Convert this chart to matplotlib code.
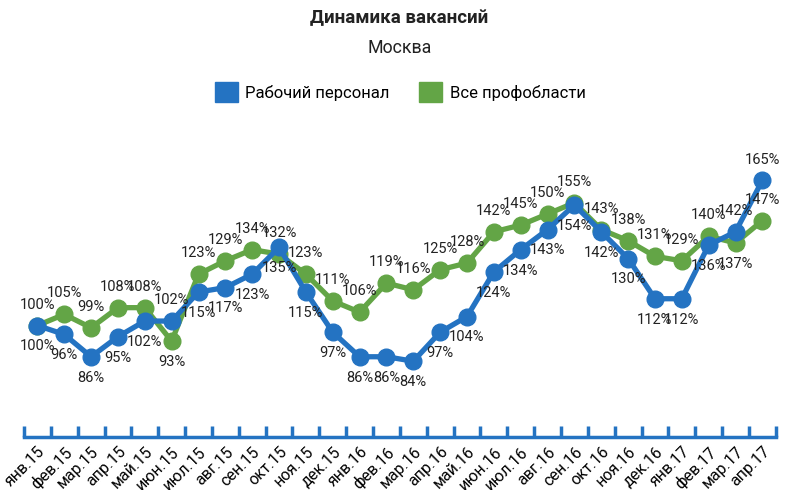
import numpy as np
import matplotlib.pyplot as plt
from matplotlib.patches import Patch

plt.rcParams['font.family'] = ['Roboto', 'DejaVu Sans']

months = ['янв.15', 'фев.15', 'мар.15', 'апр.15', 'май.15', 'июн.15', 'июл.15',
          'авг.15', 'сен.15', 'окт.15', 'ноя.15', 'дек.15', 'янв.16', 'фев.16',
          'мар.16', 'апр.16', 'май.16', 'июн.16', 'июл.16', 'авг.16', 'сен.16',
          'окт.16', 'ноя.16', 'дек.16', 'янв.17', 'фев.17', 'мар.17', 'апр.17']
workers = [100, 96, 86, 95, 102, 102, 115, 117, 123, 135, 115, 97, 86, 86,
           84, 97, 104, 124, 134, 143, 154, 142, 130, 112, 112, 136, 142, 165]
all_areas = [100, 105, 99, 108, 108, 93, 123, 129, 134, 132, 123, 111, 106, 119,
             116, 125, 128, 142, 145, 150, 155, 143, 138, 131, 129, 140, 137, 147]

blue = '#2473C2'
green = '#63A546'

fig = plt.figure(figsize=(7.86, 4.9), dpi=100)
ax = fig.add_axes([0.0305, 0.108, 0.9565, 0.592])

x = np.arange(len(months))
ax.plot(x, all_areas, color=green, lw=3.8, marker='o', ms=12, zorder=2)
ax.plot(x, workers, color=blue, lw=3.8, marker='o', ms=12, zorder=3)

# green labels go on top unless green is clearly below blue
for i in range(len(months)):
    w, g = workers[i], all_areas[i]
    last = i == len(months) - 1
    g_up = g > w - 4 or last
    w_up = (not g_up) or last
    ax.annotate(f'{g}%', (i, g), xytext=(0, 10 if g_up else -10), textcoords='offset points',
                ha='center', va='bottom' if g_up else 'top', fontsize=10.5, color='#222222', zorder=5)
    ax.annotate(f'{w}%', (i, w), xytext=(0, 10 if w_up else -10), textcoords='offset points',
                ha='center', va='bottom' if w_up else 'top', fontsize=10.5, color='#222222', zorder=5)

ax.set_xlim(-0.5, len(months) - 0.5)
ax.set_ylim(50, 180)

for s in ['top', 'right', 'left']:
    ax.spines[s].set_visible(False)
ax.spines['bottom'].set_color(blue)
ax.spines['bottom'].set_linewidth(2.5)
ax.set_yticks([])

ax.set_xticks(x)
ax.set_xticklabels(months, rotation=45, ha='right', va='top', rotation_mode='anchor', fontsize=11.5)
ax.tick_params(axis='x', which='major', length=0, pad=5)
ax.set_xticks(np.arange(len(months) + 1) - 0.5, minor=True)
ax.tick_params(axis='x', which='minor', direction='in', length=8, width=2.5, color=blue)

fig.text(0.508, 0.963, 'Динамика вакансий', ha='center', va='center', fontsize=13.5, fontweight='bold', color='#222222')
fig.text(0.508, 0.902, 'Москва', ha='center', va='center', fontsize=12.8, color='#222222')

handles = [Patch(color=blue, label='Рабочий персонал'), Patch(color=green, label='Все профобласти')]
fig.legend(handles=handles, loc='center', bbox_to_anchor=(0.509, 0.812), ncol=2, frameon=False,
           fontsize=12, handlelength=1.4, handleheight=1.4, handletextpad=0.45, columnspacing=1.75)

fig.savefig('out.png', dpi=100)
